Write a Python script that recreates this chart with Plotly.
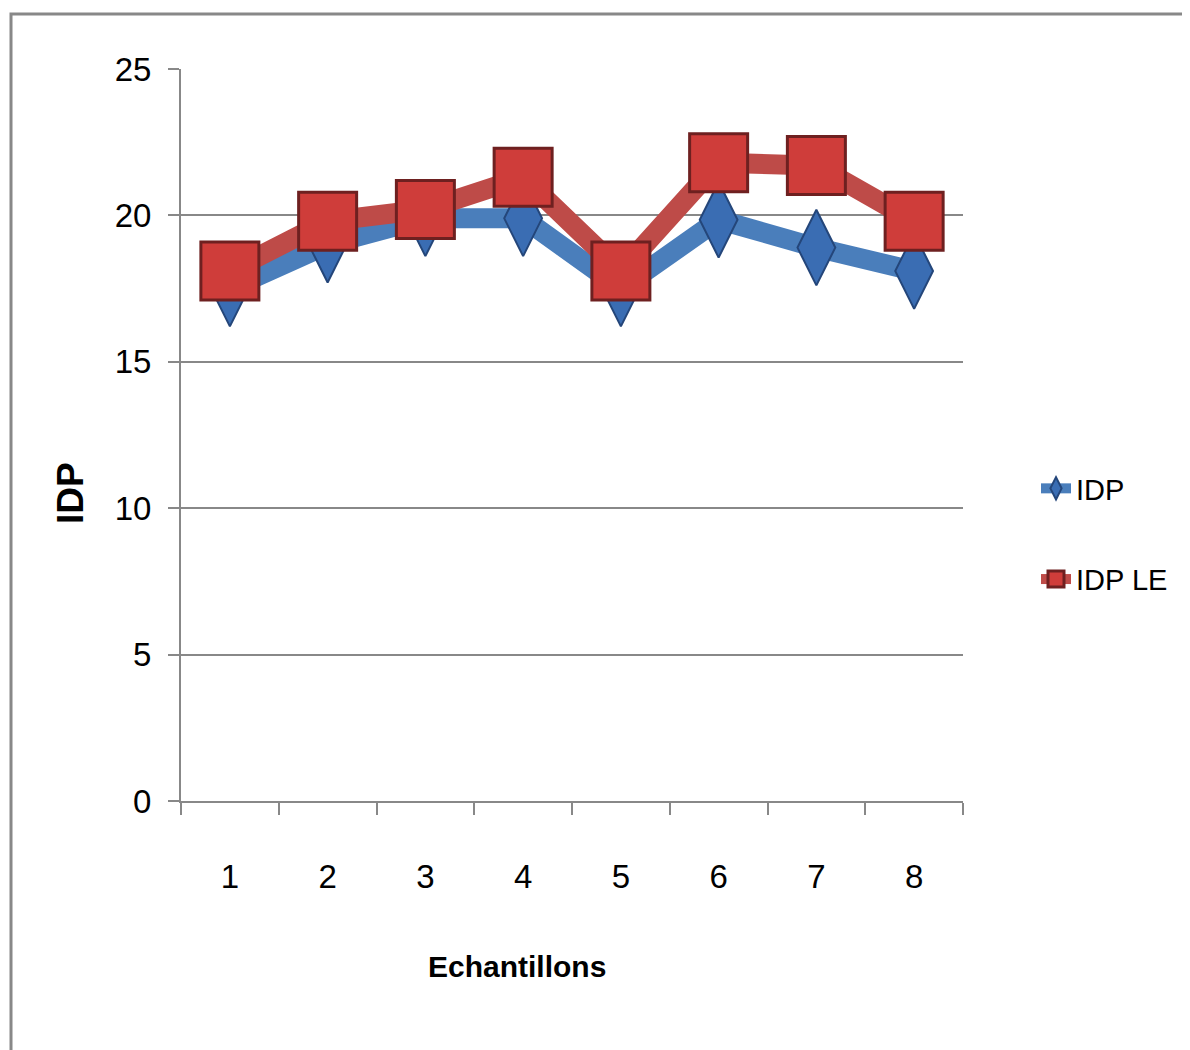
import plotly.graph_objects as go

categories = ["1", "2", "3", "4", "5", "6", "7", "8"]
idp = [17.5, 19.0, 19.9, 19.9, 17.5, 19.85, 18.9, 18.1]
idp_le = [18.1, 19.8, 20.2, 21.3, 18.1, 21.8, 21.7, 19.8]
y_ticks = [0, 5, 10, 15, 20, 25]

FONT = "Liberation Sans Narrow, Liberation Sans, Arial, sans-serif"

# page offset (body margin) is 8px; target plot area: x 181..963, y 69..801
PX0, PY0, PW, PH = 181, 69, 782, 732
W, H, OFF = 1190, 1050, 8


def px(x):
    return (x - PX0) / PW


def py(y):
    return (PY0 + PH - y) / PH


fig = go.Figure()
fig.add_trace(go.Scatter(
    x=categories, y=idp, name="IDP", mode="lines+markers",
    line=dict(color="#4a7ebb", width=20),
    marker=dict(symbol="diamond-tall", size=54, color="#3a6db3",
                line=dict(color="#24467a", width=2)),
    legendgroup="a"))
fig.add_trace(go.Scatter(
    x=categories, y=idp_le, name="IDP LE", mode="lines+markers",
    line=dict(color="#be4b48", width=20),
    marker=dict(symbol="square", size=58, color="#cf3d3a",
                line=dict(color="#6e2020", width=3)),
    legendgroup="b"))

fig.update_layout(
    width=W, height=H,
    margin=dict(l=PX0 - OFF, r=W - (PX0 - OFF) - PW, t=PY0 - OFF,
                b=H - (PY0 - OFF) - PH),
    paper_bgcolor="white", plot_bgcolor="white",
    font=dict(family=FONT, size=32, color="black"),
    showlegend=True,
    legend=dict(xref="container", yref="container",
                x=(1036 - OFF) / W, y=1 - (463 - OFF) / H,
                xanchor="left", yanchor="top",
                font=dict(family=FONT, size=29), tracegroupgap=50,
                traceorder="grouped", bgcolor="rgba(0,0,0,0)"),
    xaxis=dict(type="category", range=[-0.5, 7.5], showgrid=False,
               showline=True, linecolor="#888888", linewidth=2,
               ticks="outside", ticklen=12, tickwidth=2, tickcolor="#888888",
               tickson="boundaries", ticklabelstandoff=45,
               tickfont=dict(family=FONT, size=33)),
    yaxis=dict(range=[0, 25], tickvals=y_ticks, showgrid=True,
               gridcolor="#888888", gridwidth=2, zeroline=False,
               showline=True, linecolor="#888888", linewidth=2,
               ticks="outside", ticklen=11, tickwidth=2, tickcolor="#888888",
               ticklabelstandoff=10,
               tickfont=dict(family=FONT, size=33)),
    annotations=[
        dict(text="<b>Echantillons</b>", x=px(517), y=py(967),
             xref="paper", yref="paper", showarrow=False,
             font=dict(family=FONT, size=30), xanchor="center", yanchor="middle"),
        dict(text="<b>IDP</b>", x=px(70), y=py(493),
             xref="paper", yref="paper", showarrow=False, textangle=-90,
             font=dict(family="Liberation Sans, Arial, sans-serif", size=37),
             xanchor="center", yanchor="middle"),
    ],
    shapes=[dict(type="rect", xref="paper", yref="paper",
                 x0=px(11), y0=py(1070), x1=px(1210), y1=py(14),
                 line=dict(color="#888888", width=3), layer="below")],
)

fig.write_html("out.html")
